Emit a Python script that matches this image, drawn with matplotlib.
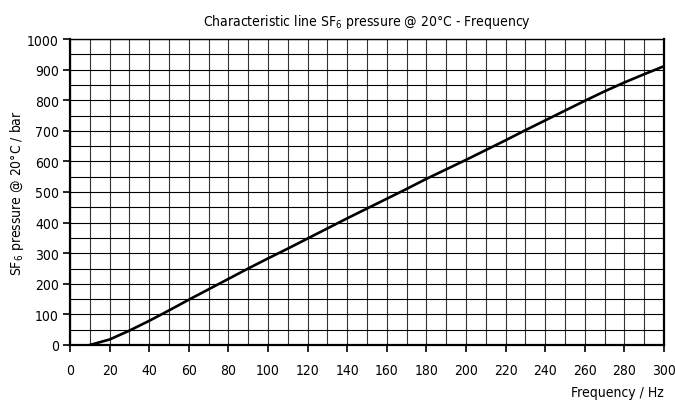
import numpy as np
import matplotlib
matplotlib.use("Agg")
import matplotlib.pyplot as plt
from matplotlib.ticker import MultipleLocator

# Kennlinie SF6-Druck bei 20 °C über der Frequenz
freq = [10, 20, 30, 40, 50, 60, 70, 80, 90, 100, 110, 120, 130, 140, 150,
        160, 170, 180, 190, 200, 210, 220, 230, 240, 250, 260, 270, 280, 290, 300]
pressure = [0, 18, 47, 79, 113, 148, 182, 216, 250, 283, 315, 348, 381, 414, 446,
            478, 510, 543, 574, 605, 637, 669, 702, 734, 766, 798, 829, 858, 885, 911]

plt.rcParams['font.family'] = ['DejaVu Sans']
plt.rcParams['font.stretch'] = 'condensed'
plt.rcParams['mathtext.default'] = 'regular'
plt.rcParams['font.size'] = 10

fig = plt.figure(figsize=(6.75, 4.06), dpi=100)
ax = fig.add_axes([70/675, 60/406, 594/675, 306/406])

ax.plot(freq, pressure, color='black', lw=1.9, solid_joinstyle='round', zorder=3)

ax.set_xlim(0, 300)
ax.set_ylim(0, 1000)
ax.xaxis.set_major_locator(MultipleLocator(20))
ax.xaxis.set_minor_locator(MultipleLocator(10))
ax.yaxis.set_major_locator(MultipleLocator(100))
ax.yaxis.set_minor_locator(MultipleLocator(50))

ax.grid(which='both', axis='y', color='black', lw=0.8)
ax.grid(which='both', axis='x', color='#333333', lw=0.8)
ax.tick_params(which='major', direction='out', length=5, width=1.2, pad=8, labelsize=10)
ax.tick_params(which='minor', length=0)
ax.tick_params(axis='y', pad=3)

for side in ['left', 'bottom', 'right']:
    ax.spines[side].set_linewidth(1.6)
ax.spines['top'].set_linewidth(1.0)

ax.set_title('Characteristic line SF$_6$ pressure @ 20°C - Frequency', fontsize=10, pad=10)
ax.set_ylabel('SF$_6$ pressure @ 20°C / bar', fontsize=10, labelpad=1)
ax.set_xlabel('Frequency / Hz', fontsize=10, loc='right', labelpad=6)

fig.savefig('out.png', dpi=100)
